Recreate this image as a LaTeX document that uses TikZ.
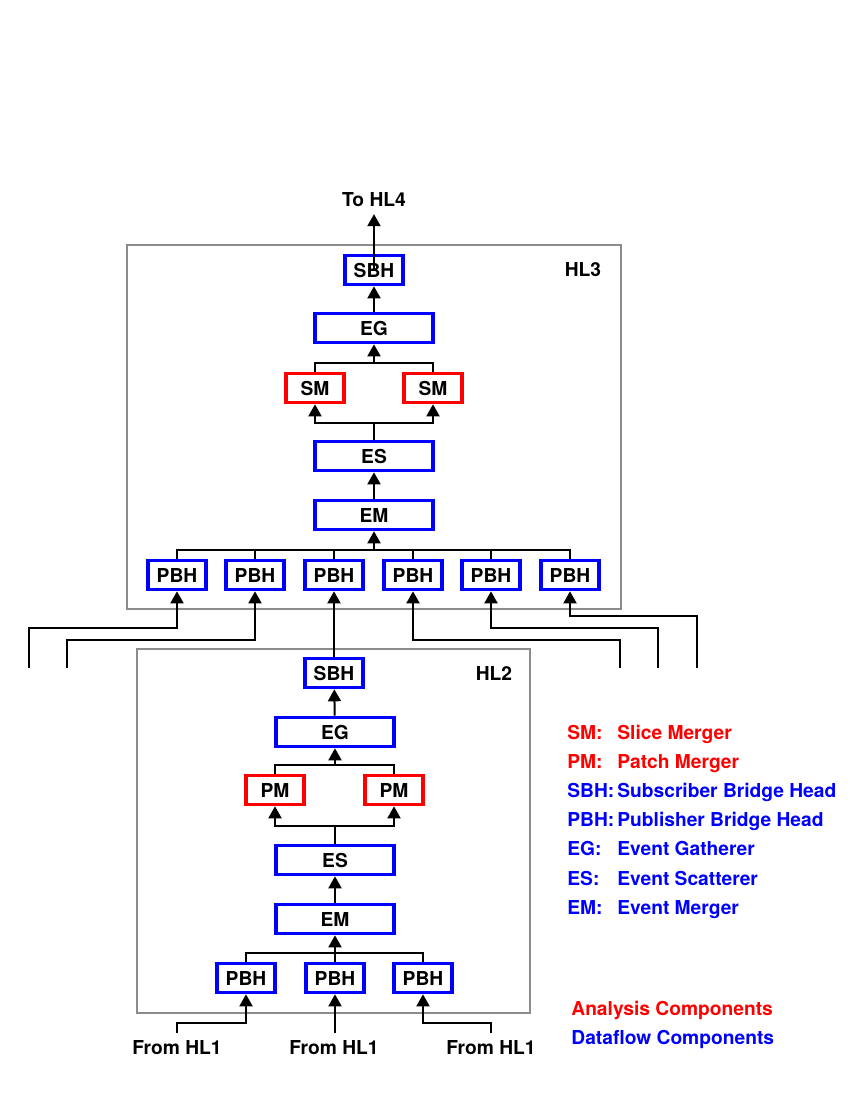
\documentclass[tikz,border=0pt]{standalone}
\usepackage{fontspec}
\setmainfont{TeX Gyre Heros}
\usetikzlibrary{arrows.meta}
\definecolor{dfblue}{RGB}{0,0,255}
\definecolor{anred}{RGB}{255,0,0}
\newcommand\lblfont{\fontsize{9.6}{11}\selectfont\bfseries}

\begin{document}
\begin{tikzpicture}[x=0.5pt, y=-0.5pt, font=\lblfont,
    dfbox/.style={draw=dfblue, line width=1.8pt, minimum width=29pt, minimum height=14.5pt, inner sep=0pt},
    anbox/.style={dfbox, draw=anred},
    widebox/.style={dfbox, minimum width=59pt},
    link/.style={line width=1pt},
    flow/.style={line width=1pt, -{Triangle[length=6pt,width=6.5pt]}},
    frame/.style={draw=black!45, line width=0.6pt},
    legend/.style={anchor=base west, inner sep=0pt}]
    \useasboundingbox (0,0) rectangle (850,1100);

    % Frames
    \draw[frame] (127,245) rectangle (621,609);
    \draw[frame] (137,649) rectangle (530,1013);
    \node (HLthree) at (583,270) {HL3};
    \node (HLtwo) at (494,673) {HL2};

    % HL3 components
    \node[dfbox] (SBH) at (374,270) {SBH};
    \node[widebox] (EG) at (374,328) {EG};
    \node[anbox] (SMa) at (315,388) {SM};
    \node[anbox] (SMb) at (433,388) {SM};
    \node[widebox] (ES) at (374,456) {ES};
    \node[widebox] (EM) at (374,515) {EM};
    \node[dfbox] (PBHa) at (177,575) {PBH};
    \node[dfbox] (PBHb) at (255,575) {PBH};
    \node[dfbox] (PBHc) at (334,575) {PBH};
    \node[dfbox] (PBHd) at (413,575) {PBH};
    \node[dfbox] (PBHe) at (491,575) {PBH};
    \node[dfbox] (PBHf) at (570,575) {PBH};
    \node (toHL) at (374,200) {To HL4};

    % HL3 flow
    \coordinate (jSMtop) at (374,363);
    \coordinate (jSMbot) at (374,423);
    \coordinate (jPBH) at (374,550);
    \draw[flow] (SBH.center) -- (toHL.south);
    \draw[flow] (EG) -- (SBH);
    \draw[link] (SMa.north) |- (jSMtop) -| (SMb.north);
    \draw[flow] (jSMtop) -- (EG.south);
    \draw[link] (ES.north) -- (jSMbot);
    \draw[flow] (jSMbot) -| (SMa.south);
    \draw[flow] (jSMbot) -| (SMb.south);
    \draw[flow] (EM) -- (ES);
    \draw[link] (PBHa.north) |- (jPBH) -| (PBHf.north);
    \draw[link] (PBHb.north) -- (PBHb.north |- jPBH);
    \draw[link] (PBHc.north) -- (PBHc.north |- jPBH);
    \draw[link] (PBHd.north) -- (PBHd.north |- jPBH);
    \draw[link] (PBHe.north) -- (PBHe.north |- jPBH);
    \draw[flow] (jPBH) -- (EM.south);

    % Inputs into HL3
    \coordinate (lvA) at (0,616);
    \coordinate (lvB) at (0,628);
    \coordinate (lvC) at (0,640);
    \coordinate (inA) at (29,668);
    \coordinate (inB) at (67,668);
    \coordinate (inD) at (620,668);
    \coordinate (inE) at (658,668);
    \coordinate (inF) at (697,668);
    \draw[flow] (inA) |- (PBHa.south |- lvB) -- (PBHa.south);
    \draw[flow] (inB) |- (PBHb.south |- lvC) -- (PBHb.south);
    \draw[flow] (inD) |- (PBHd.south |- lvC) -- (PBHd.south);
    \draw[flow] (inE) |- (PBHe.south |- lvB) -- (PBHe.south);
    \draw[flow] (inF) |- (PBHf.south |- lvA) -- (PBHf.south);

    % HL2 components
    \node[dfbox] (SBHtwo) at (334,673) {SBH};
    \node[widebox] (EGtwo) at (335,732) {EG};
    \node[anbox] (PMa) at (275,790) {PM};
    \node[anbox] (PMb) at (394,790) {PM};
    \node[widebox] (EStwo) at (335,860) {ES};
    \node[widebox] (EMtwo) at (335,919) {EM};
    \node[dfbox] (PBHtwoa) at (246,978) {PBH};
    \node[dfbox] (PBHtwob) at (335,978) {PBH};
    \node[dfbox] (PBHtwoc) at (423,978) {PBH};

    % HL2 flow
    \coordinate (jPMtop) at (335,765);
    \coordinate (jPMbot) at (335,826);
    \coordinate (jPBHtwo) at (335,953);
    \draw[flow] (SBHtwo.north) -- (PBHc.south);
    \draw[flow] (EGtwo) -- (SBHtwo);
    \draw[link] (PMa.north) |- (jPMtop) -| (PMb.north);
    \draw[flow] (jPMtop) -- (EGtwo.south);
    \draw[link] (EStwo.north) -- (jPMbot);
    \draw[flow] (jPMbot) -| (PMa.south);
    \draw[flow] (jPMbot) -| (PMb.south);
    \draw[flow] (EMtwo) -- (EStwo);
    \draw[link] (PBHtwoa.north) |- (jPBHtwo) -| (PBHtwoc.north);
    \draw[flow] (PBHtwob.north) -- (EMtwo.south);

    % Inputs from HL1
    \node (fromA) at (177,1048) {From HL1};
    \node (fromB) at (334,1048) {From HL1};
    \node (fromC) at (491,1048) {From HL1};
    \coordinate (lvD) at (0,1023);
    \coordinate (hlA) at (177,1033);
    \coordinate (hlB) at (335,1033);
    \coordinate (hlC) at (491,1033);
    \draw[flow] (hlA) |- (PBHtwoa.south |- lvD) -- (PBHtwoa.south);
    \draw[flow] (hlB) -- (PBHtwob.south);
    \draw[flow] (hlC) |- (PBHtwoc.south |- lvD) -- (PBHtwoc.south);

    % Legend
    \node[legend, text=anred] (abSM) at (567,739) {SM:};
    \node[legend, text=anred] (txSM) at (617,739) {Slice Merger};
    \node[legend, text=anred] (abPM) at (567,768) {PM:};
    \node[legend, text=anred] (txPM) at (617,768) {Patch Merger};
    \node[legend, text=dfblue] (abSBH) at (567,797) {SBH:};
    \node[legend, text=dfblue] (txSBH) at (617,797) {Subscriber Bridge Head};
    \node[legend, text=dfblue] (abPBH) at (567,826) {PBH:};
    \node[legend, text=dfblue] (txPBH) at (617,826) {Publisher Bridge Head};
    \node[legend, text=dfblue] (abEG) at (567,855) {EG:};
    \node[legend, text=dfblue] (txEG) at (617,855) {Event Gatherer};
    \node[legend, text=dfblue] (abES) at (567,885) {ES:};
    \node[legend, text=dfblue] (txES) at (617,885) {Event Scatterer};
    \node[legend, text=dfblue] (abEM) at (567,914) {EM:};
    \node[legend, text=dfblue] (txEM) at (617,914) {Event Merger};
    \node[legend, text=anred] (anComp) at (571,1015) {Analysis Components};
    \node[legend, text=dfblue] (dfComp) at (571,1044) {Dataflow Components};
\end{tikzpicture}
\end{document}
